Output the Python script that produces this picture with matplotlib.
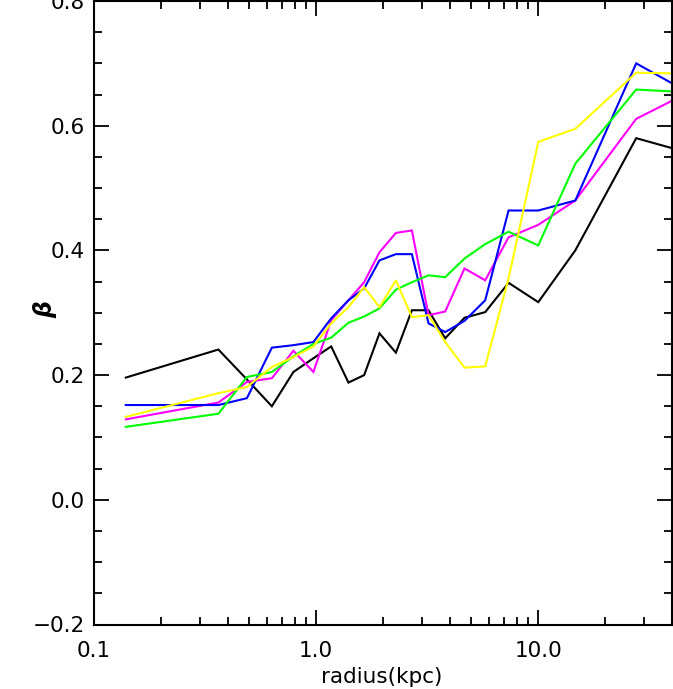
import matplotlib
matplotlib.use("Agg")
import matplotlib.pyplot as plt
from matplotlib.ticker import FixedLocator, FixedFormatter, LogLocator, NullFormatter, MultipleLocator

radius = [0.139, 0.363, 0.488, 0.632, 0.790, 0.972, 1.169, 1.398, 1.645, 1.928, 2.286,
          2.698, 3.206, 3.81, 4.656, 5.77, 7.35, 10.0, 14.68, 27.6, 40.0]

beta_black = [0.196, 0.241, 0.193, 0.150, 0.205, 0.227, 0.246, 0.188, 0.200, 0.267, 0.236,
              0.304, 0.304, 0.259, 0.292, 0.301, 0.348, 0.317, 0.400, 0.580, 0.564]
beta_blue = [0.152, 0.152, 0.163, 0.244, 0.248, 0.253, 0.291, 0.320, 0.339, 0.384, 0.394,
             0.394, 0.283, 0.269, 0.287, 0.320, 0.464, 0.464, 0.480, 0.700, 0.668]
beta_magenta = [0.129, 0.156, 0.189, 0.195, 0.239, 0.205, 0.288, 0.320, 0.349, 0.397, 0.428,
                0.432, 0.296, 0.302, 0.371, 0.352, 0.421, 0.441, 0.480, 0.611, 0.640]
beta_yellow = [0.133, 0.171, 0.181, 0.213, 0.229, 0.246, 0.283, 0.309, 0.341, 0.309, 0.352,
               0.293, 0.296, 0.253, 0.212, 0.214, 0.355, 0.574, 0.595, 0.685, 0.684]
beta_green = [0.117, 0.138, 0.197, 0.205, 0.230, 0.250, 0.260, 0.284, 0.294, 0.307, 0.337,
              0.349, 0.360, 0.357, 0.387, 0.410, 0.430, 0.408, 0.539, 0.658, 0.655]

x_ticks = [0.1, 1.0, 10.0]
x_ticklabels = ["0.1", "1.0", "10.0"]
y_ticks = [-0.2, 0.0, 0.2, 0.4, 0.6, 0.8]
y_ticklabels = ["\u22120.2", "0.0", "0.2", "0.4", "0.6", "0.8"]

W, H = 673, 689
fig = plt.figure(figsize=(W / 100, H / 100), dpi=100)
ax = fig.add_axes([94 / W, 1 - 624.5 / H, (672 - 94) / W, (624.5 - 1) / H])

lw = 1.5
series = [(beta_black, "#000000"), (beta_magenta, "#FF00FF"), (beta_blue, "#0000FF"),
          (beta_green, "#00FF00"), (beta_yellow, "#FFFF00")]
for vals, col in series:
    ax.plot(radius, vals, color=col, lw=lw, solid_joinstyle="miter")

ax.set_xscale("log")
ax.set_xlim(0.1, 40)
ax.set_ylim(-0.2, 0.8)

ax.xaxis.set_major_locator(FixedLocator(x_ticks))
ax.xaxis.set_major_formatter(FixedFormatter(x_ticklabels))
ax.xaxis.set_minor_locator(LogLocator(base=10, subs=range(2, 10)))
ax.xaxis.set_minor_formatter(NullFormatter())
ax.yaxis.set_major_locator(FixedLocator(y_ticks))
ax.yaxis.set_major_formatter(FixedFormatter(y_ticklabels))
ax.yaxis.set_minor_locator(MultipleLocator(0.05))

ax.tick_params(which="both", direction="in", top=True, right=True, width=1.3, color="black")
ax.tick_params(which="major", length=11, labelsize=15.5)
ax.tick_params(axis="x", which="major", pad=12)
ax.tick_params(axis="y", which="major", pad=6.5)
ax.tick_params(which="minor", length=6)
for s in ax.spines.values():
    s.set_linewidth(1.5)

ax.set_xlabel("radius(kpc)", fontsize=15.5)
ax.xaxis.set_label_coords((382 - 94) / 578, (624.5 - 677) / 623.5)
ax.xaxis.label.set_va("center")
ax.set_ylabel("\u03b2", fontsize=17, fontstyle="italic", fontweight="bold")
ax.yaxis.set_label_coords((45 - 94) / 578, (624.5 - 310) / 623.5)
ax.yaxis.label.set_va("center")

fig.savefig("out.png", dpi=100)
